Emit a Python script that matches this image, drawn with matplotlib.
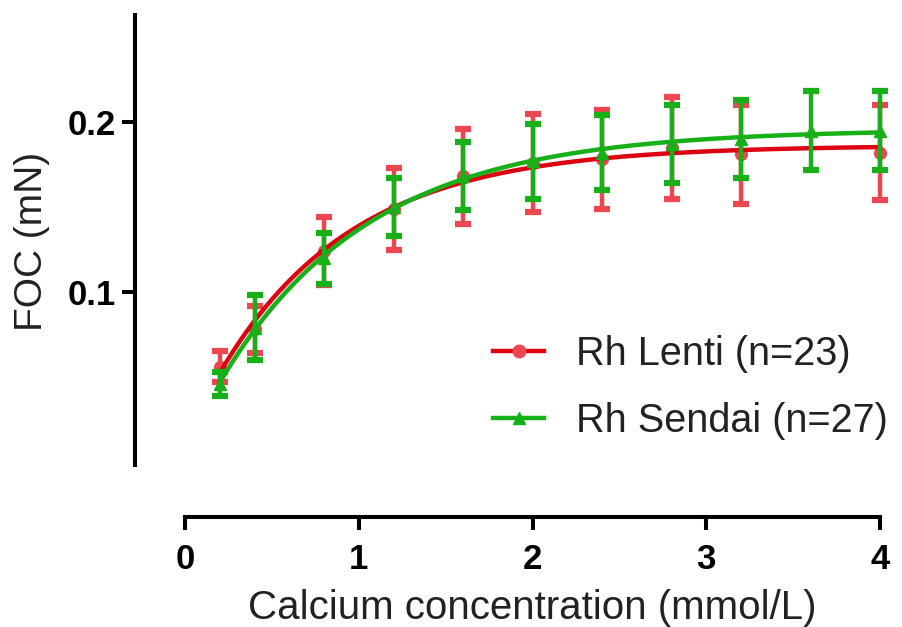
import numpy as np
import matplotlib
matplotlib.use("Agg")
import matplotlib.pyplot as plt
from matplotlib.lines import Line2D

plt.rcParams['font.family'] = ['Liberation Sans', 'DejaVu Sans']

# ---- data ----
conc = [0.2, 0.4, 0.8, 1.2, 1.6, 2.0, 2.4, 2.8, 3.2, 3.6, 4.0]
lenti_mean = [0.056, 0.078, 0.124, 0.149, 0.168, 0.176, 0.178, 0.185, 0.181, np.nan, 0.182]
lenti_sem = [0.009, 0.014, 0.020, 0.024, 0.028, 0.029, 0.029, 0.030, 0.029, np.nan, 0.028]
sendai_mean = [0.046, 0.079, 0.120, 0.150, 0.168, 0.177, 0.182, 0.187, 0.190, 0.195, 0.195]
sendai_sem = [0.007, 0.019, 0.015, 0.017, 0.020, 0.022, 0.022, 0.023, 0.023, 0.023, 0.023]
x_ticks = [0, 1, 2, 3, 4]
y_ticks = [0.1, 0.2]
labels = ["Rh Lenti (n=23)", "Rh Sendai (n=27)"]

RED_LINE = "#dc0010"
RED_BAR = "#ec4650"
GREEN = "#18b018"


def fit_curve(x, y):
    """One-phase association fit y = A - B*exp(-k x) (grid search on k)."""
    x = np.asarray(x, float)
    y = np.asarray(y, float)
    m = ~np.isnan(y)
    x, y = x[m], y[m]
    best = None
    for k in np.linspace(0.05, 5, 2000):
        M = np.column_stack([np.ones_like(x), -np.exp(-k * x)])
        coef, *_ = np.linalg.lstsq(M, y, rcond=None)
        r = np.sum((M @ coef - y) ** 2)
        if best is None or r < best[0]:
            best = (r, k, coef)
    _, k, (A, B) = best
    return lambda t: A - B * np.exp(-k * t)


W, H = 902, 627
fig = plt.figure(figsize=(W / 100, H / 100), dpi=100)
ax = fig.add_axes([185 / W, 1 - 465 / H, (880 - 185) / W, (465 - 15) / H])

xs = np.linspace(min(conc), max(conc), 300)
f_red = fit_curve(conc, lenti_mean)
f_green = fit_curve(conc, sendai_mean)

eb_kw = dict(markersize=8.5, elinewidth=3.2, capsize=5.5, capthick=4.5)
r = ax.errorbar(conc, lenti_mean, yerr=lenti_sem, fmt='o', color=RED_BAR, ecolor=RED_BAR,
                zorder=2, **eb_kw)
ax.plot(xs, f_red(xs), color=RED_LINE, lw=3.2, zorder=3, clip_on=False)
g = ax.errorbar(conc, sendai_mean, yerr=sendai_sem, fmt='^', color=GREEN, ecolor=GREEN,
                zorder=4, **eb_kw)
ax.plot(xs, f_green(xs), color=GREEN, lw=3.2, zorder=5, clip_on=False)
for cont in (r, g):
    for art in cont.get_children():
        art.set_clip_on(False)

ax.set_xlim(0, 4)
ax.set_ylim(-0.0018, 0.263)
ax.set_xticks(x_ticks)
ax.set_xticklabels([str(t) for t in x_ticks])
ax.set_yticks(y_ticks)
ax.set_yticklabels([f"{t:.1f}" for t in y_ticks])

for s in ['top', 'right']:
    ax.spines[s].set_visible(False)
ax.spines['left'].set_position(('outward', 36))
ax.spines['bottom'].set_position(('outward', 37.5))
ax.spines['left'].set_linewidth(2.9)
ax.spines['bottom'].set_linewidth(2.9)
ax.tick_params(axis='both', width=2.9, length=9.5, labelsize=25, colors='black')
ax.tick_params(axis='x', pad=9)
ax.tick_params(axis='y', pad=4)
for lab in ax.get_xticklabels() + ax.get_yticklabels():
    lab.set_fontweight('bold')

fig.text(532 / W, 1 - 619 / H, "Calcium concentration (mmol/L)", ha='center', va='baseline',
         fontsize=29, color='#222222')
fig.text(32 / W, 1 - 241 / H, "FOC (mN)", ha='center', va='center', rotation=90,
         fontsize=28, color='#222222')

handles = [
    Line2D([], [], color=RED_LINE, lw=3.2, marker='o', markersize=9,
           markerfacecolor=RED_BAR, markeredgecolor=RED_BAR),
    Line2D([], [], color=GREEN, lw=3.2, marker='^', markersize=9),
]
leg = ax.legend(handles, labels, loc='upper left', bbox_to_anchor=(493 / W, 1 - 335 / H),
                bbox_transform=fig.transFigure, frameon=False, fontsize=28.5,
                borderpad=0, borderaxespad=0, handlelength=1.3, handletextpad=0.8,
                labelspacing=0.72)
for t in leg.get_texts():
    t.set_color('#222222')

fig.savefig("out.png", dpi=100, facecolor='white')
